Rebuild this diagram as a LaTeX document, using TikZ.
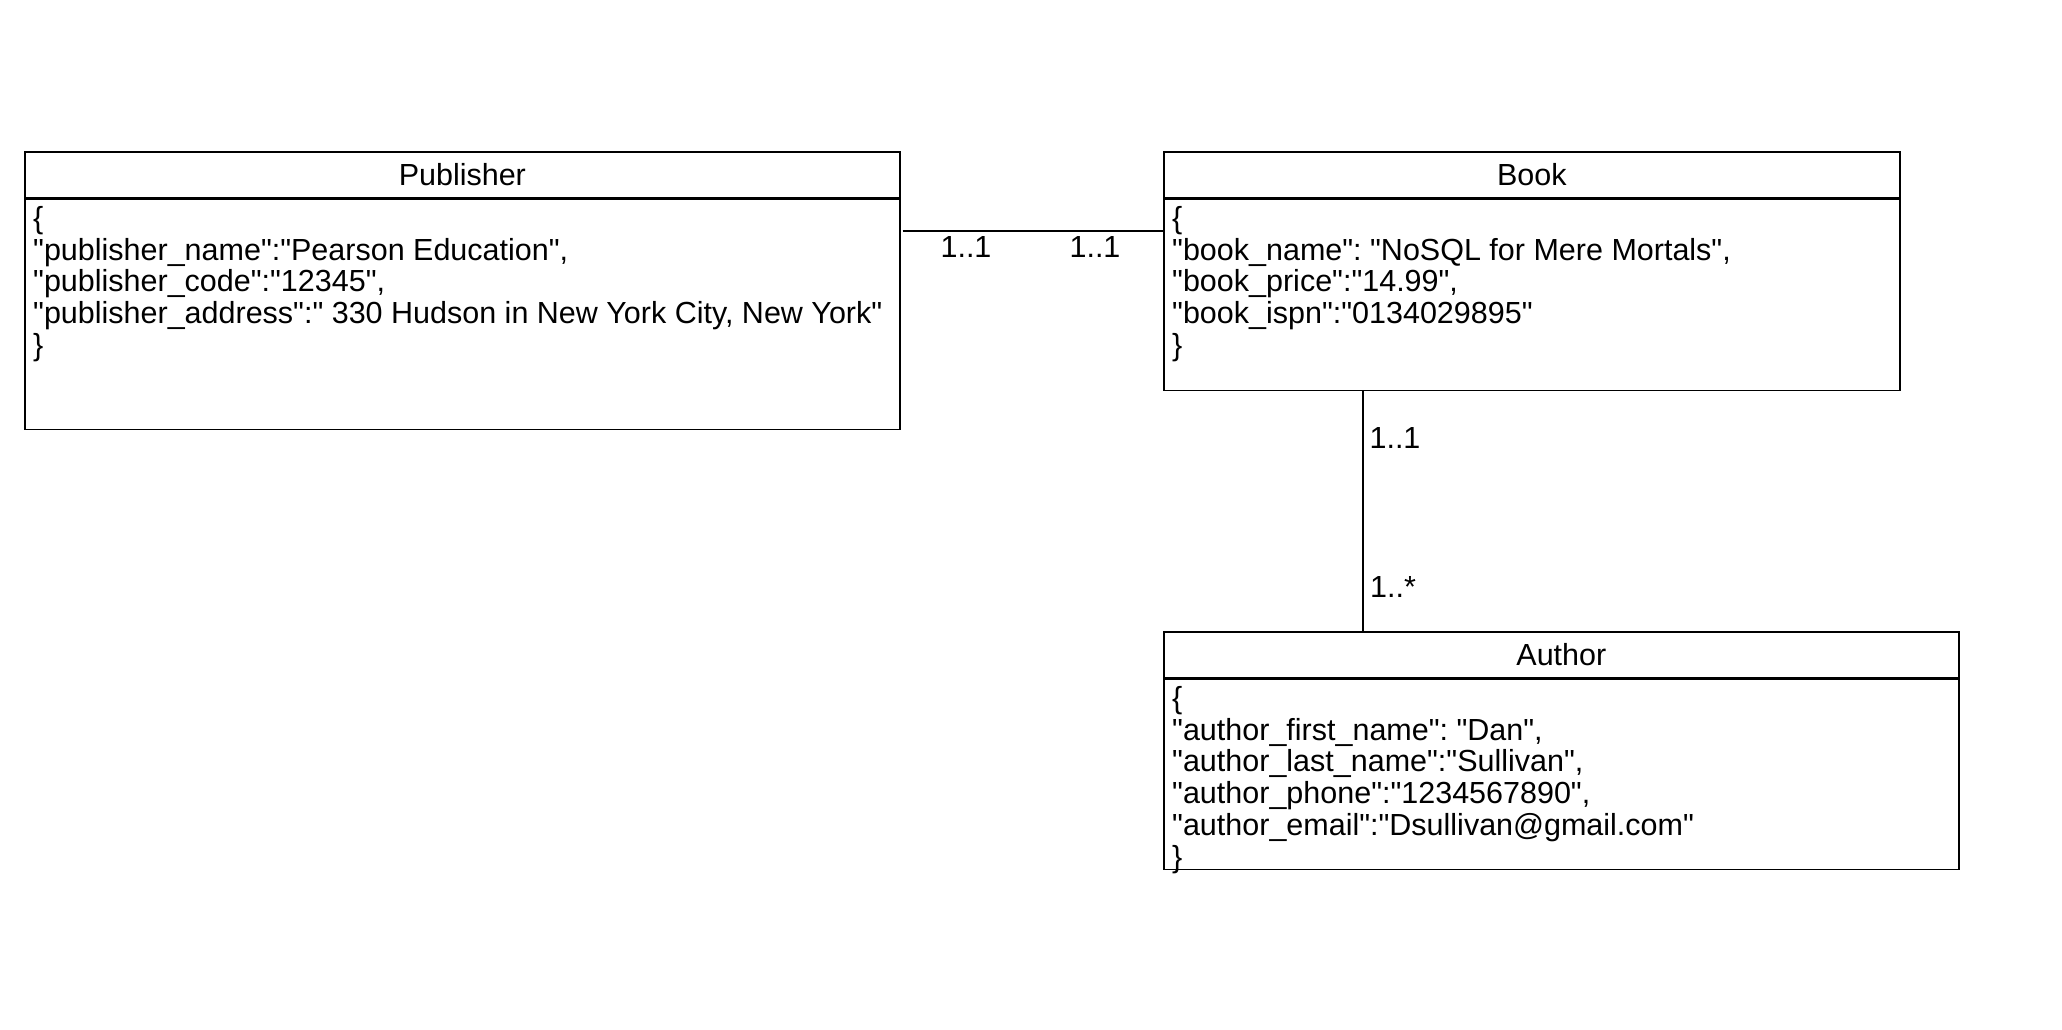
\documentclass[tikz,border=0pt]{standalone}
\usepackage{fontspec}
\setmainfont{Liberation Sans}
\setmonofont{Liberation Sans}
\begin{document}
\begin{tikzpicture}[x=1pt,y=-1pt,
  lw/.style={line width=1.7pt},
  cw/.style={line width=1.4pt},
  jfont/.style={font=\ttfamily\fontsize{30.5}{31.7}\selectfont},
  titlebox/.style={draw,lw,anchor=north west,inner sep=0pt,jfont},
  bodybox/.style={draw,lw,anchor=north west,inner sep=0pt},
  bodytext/.style={anchor=north west,align=left,inner sep=0pt,jfont},
  mult/.style={inner sep=0pt,jfont}]
\useasboundingbox[fill=white] (0,0) rectangle (2062,1030);
% Publisher
\node[titlebox,minimum width=875pt,minimum height=46pt] (pubT) at (24,151) {Publisher};
\node[bodybox,minimum width=875pt,minimum height=230pt] (pubB) at (pubT.south west) {};
\node[bodytext] (pubX) at ([xshift=9pt,yshift=-7.5pt]pubB.north west)
  {\{\\"publisher\_name":"Pearson Education",\\"publisher\_code":"12345",\\"publisher\_address":" 330 Hudson in New York City, New York"\\\}};
% Book
\node[titlebox,minimum width=736pt,minimum height=46pt] (bookT) at (1163,151) {Book};
\node[bodybox,minimum width=736pt,minimum height=191pt] (bookB) at (bookT.south west) {};
\node[bodytext] (bookX) at ([xshift=9pt,yshift=-7.5pt]bookB.north west)
  {\{\\"book\_name": "NoSQL for Mere Mortals",\\"book\_price":"14.99",\\"book\_ispn":"0134029895"\\\}};
% Author
\node[titlebox,minimum width=795pt,minimum height=46pt] (authT) at (1163,631) {Author};
\node[bodybox,minimum width=795pt,minimum height=190pt] (authB) at (authT.south west) {};
\node[bodytext] (authX) at ([xshift=9pt,yshift=-7.5pt]authB.north west)
  {\{\\"author\_first\_name": "Dan",\\"author\_last\_name":"Sullivan",\\"author\_phone":"1234567890",\\"author\_email":"Dsullivan@gmail.com"\\\}};
% connectors
\coordinate (hy) at (0,231);
\coordinate (vx) at (1363,0);
\draw[cw] ([xshift=2pt]pubB.east |- hy) -- (bookB.west |- hy);
\draw[cw] (bookB.south -| vx) -- (authT.north -| vx);
% multiplicities
\node[mult] (m1) at (966,247) {1..1};
\node[mult] (m2) at (1095,247) {1..1};
\node[mult] (m3) at (1395,437.6) {1..1};
\node[mult] (m4) at (1393,587) {1..*};
\end{tikzpicture}
\end{document}
